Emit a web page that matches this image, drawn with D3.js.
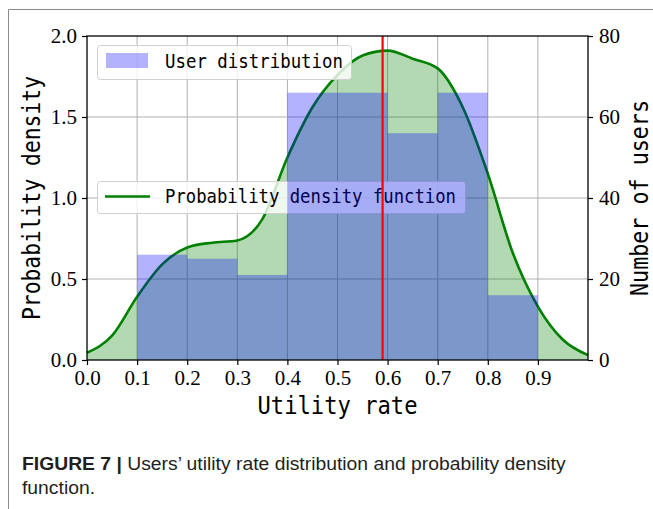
<!DOCTYPE html>
<html>
<head>
<meta charset="utf-8">
<script src="https://cdn.jsdelivr.net/npm/d3@7"></script>
<style>
  html, body { margin: 0; padding: 0; background: #fff; }
  svg { display: block; }
</style>
</head>
<body>
<svg id="chart" width="653" height="509"></svg>
<script>
// Histogram bins (utility rate) and number of users in each bin
const binStarts = [0.1, 0.2, 0.3, 0.4, 0.5, 0.6, 0.7, 0.8];
const binWidth = 0.1;
const userCounts = [26, 25, 21, 66, 66, 56, 66, 16];

// Estimated probability density function of the utility rate
const pdfX = [0, 0.05, 0.1, 0.15, 0.2, 0.25, 0.3, 0.35, 0.4, 0.45, 0.5, 0.55,
              0.6, 0.65, 0.7, 0.75, 0.8, 0.85, 0.9, 0.95, 1.0];
const pdfY = [0.045, 0.15, 0.39, 0.59, 0.695, 0.724, 0.738, 0.87, 1.25, 1.56, 1.76, 1.88,
              1.91, 1.86, 1.80, 1.56, 1.15, 0.66, 0.33, 0.125, 0.03];

// Mean utility rate marker
const meanRate = 0.59;

// Tick labels
const xTicks = [0.0, 0.1, 0.2, 0.3, 0.4, 0.5, 0.6, 0.7, 0.8, 0.9];
const yLeftTicks = [0.0, 0.5, 1.0, 1.5, 2.0];
const yRightTicks = [0, 20, 40, 60, 80];

const svg = d3.select("#chart");
const L = 87, R = 588, T = 36, B = 360;

const x = d3.scaleLinear().domain([0, 1]).range([L, R]);
const yL = d3.scaleLinear().domain([0, 2]).range([B, T]);
const yR = d3.scaleLinear().domain([0, 80]).range([B, T]);

const mono = "'DejaVu Sans Mono', 'Liberation Mono', monospace";
const serif = "'Liberation Serif', 'Times New Roman', serif";
const capFont = "'Liberation Sans Narrow', 'Liberation Sans', Arial, sans-serif";

// Figure frame
svg.append("path")
  .attr("d", "M8.5,509 V9.5 H653")
  .attr("fill", "none").attr("stroke", "#8a8a8a").attr("stroke-width", 1);

// Grid
const grid = svg.append("g").attr("stroke", "#b0b0b0").attr("stroke-width", 1);
xTicks.filter(d => d > 0).forEach(d => {
  grid.append("line").attr("x1", x(d)).attr("x2", x(d)).attr("y1", T).attr("y2", B);
});
yLeftTicks.filter(d => d > 0 && d < 2).forEach(d => {
  grid.append("line").attr("x1", L).attr("x2", R).attr("y1", yL(d)).attr("y2", yL(d));
});

// PDF: shaded area and line
const pts = pdfX.map((v, i) => [v, pdfY[i]]);
const curve = d3.curveMonotoneX;
svg.append("path").datum(pts)
  .attr("d", d3.area().x(d => x(d[0])).y0(yL(0)).y1(d => yL(d[1])).curve(curve))
  .attr("fill", "rgb(0,128,0)").attr("fill-opacity", 0.3);
svg.append("path").datum(pts)
  .attr("d", d3.line().x(d => x(d[0])).y(d => yL(d[1])).curve(curve))
  .attr("fill", "none").attr("stroke", "#008000").attr("stroke-width", 2.6);

// Fit text to a given width
function fitText(sel, w) {
  sel.attr("textLength", w).attr("lengthAdjust", "spacingAndGlyphs");
  return sel;
}

// Legend for the PDF (left axis)
function legendBox(x0, y0, w, h) {
  svg.append("rect").attr("x", x0).attr("y", y0).attr("width", w).attr("height", h)
    .attr("rx", 3).attr("fill", "#fff").attr("fill-opacity", 0.8)
    .attr("stroke", "#d0d0d0").attr("stroke-width", 1);
}
legendBox(97.5, 181.5, 368, 32);
svg.append("line").attr("x1", 105).attr("x2", 150).attr("y1", 196.5).attr("y2", 196.5)
  .attr("stroke", "#008000").attr("stroke-width", 2.6);
fitText(svg.append("text").attr("x", 165).attr("y", 203)
  .attr("font-family", mono).attr("font-size", 19).attr("fill", "#000")
  .text("Probability density function"), 291);

// Histogram bars (right axis)
svg.append("g").selectAll("rect").data(binStarts).join("rect")
  .attr("x", d => x(d)).attr("width", d => x(d + binWidth) - x(d))
  .attr("y", (d, i) => yR(userCounts[i])).attr("height", (d, i) => yR(0) - yR(userCounts[i]))
  .attr("fill", "rgb(0,0,255)").attr("fill-opacity", 0.3);

// Mean marker
svg.append("line").attr("x1", x(meanRate)).attr("x2", x(meanRate)).attr("y1", T).attr("y2", B)
  .attr("stroke", "#ff0000").attr("stroke-width", 2.2);

// Legend for the histogram
legendBox(97.5, 45.5, 254, 34);
svg.append("rect").attr("x", 106).attr("y", 53).attr("width", 42).attr("height", 15)
  .attr("fill", "rgb(0,0,255)").attr("fill-opacity", 0.3);
fitText(svg.append("text").attr("x", 165).attr("y", 68)
  .attr("font-family", mono).attr("font-size", 19).attr("fill", "#000")
  .text("User distribution"), 178);

// Spines
svg.append("rect").attr("x", L).attr("y", T).attr("width", R - L).attr("height", B - T)
  .attr("fill", "none").attr("stroke", "#000").attr("stroke-width", 1.3);

// Axes
const fmt1 = d3.format(".1f");
const ax = svg.append("g").attr("transform", `translate(0,${B})`)
  .call(d3.axisBottom(x).tickValues(xTicks).tickFormat(fmt1).tickSize(5).tickPadding(5));
const ayl = svg.append("g").attr("transform", `translate(${L},0)`)
  .call(d3.axisLeft(yL).tickValues(yLeftTicks).tickFormat(fmt1).tickSize(5).tickPadding(5));
const ayr = svg.append("g").attr("transform", `translate(${R},0)`)
  .call(d3.axisRight(yR).tickValues(yRightTicks).tickFormat(d3.format("d")).tickSize(5).tickPadding(6));
[ax, ayl, ayr].forEach(g => {
  g.select(".domain").remove();
  g.selectAll(".tick line").attr("stroke", "#000").attr("stroke-width", 1.2);
  g.selectAll(".tick text").attr("font-family", serif).attr("font-size", 21).attr("fill", "#000");
});

// Axis titles
fitText(svg.append("text").attr("x", (L + R) / 2).attr("y", 414).attr("text-anchor", "middle")
  .attr("font-family", mono).attr("font-size", 24).attr("fill", "#000")
  .text("Utility rate"), 160);
fitText(svg.append("text").attr("transform", `translate(40,${(T + B) / 2}) rotate(-90)`)
  .attr("text-anchor", "middle")
  .attr("font-family", mono).attr("font-size", 24).attr("fill", "#000")
  .text("Probability density"), 244);
fitText(svg.append("text").attr("transform", `translate(648,${(T + B) / 2}) rotate(-90)`)
  .attr("text-anchor", "middle")
  .attr("font-family", mono).attr("font-size", 24).attr("fill", "#000")
  .text("Number of users"), 196);

// Caption, squeezed horizontally to a condensed face
function captionLine(y, parts, targetW) {
  const g = svg.append("g");
  const t = g.append("text").attr("x", 0).attr("y", 0)
    .attr("font-family", capFont).attr("font-size", 18.5).attr("fill", "#231f20");
  parts.forEach(p => t.append("tspan").attr("font-weight", p.bold ? "bold" : "normal").text(p.text));
  const w = t.node().getComputedTextLength();
  const sx = targetW ? targetW / w : 0.9;
  g.attr("transform", `translate(22,${y}) scale(${sx},1)`);
  return sx;
}
const sx = captionLine(470, [
  { text: "FIGURE 7 | ", bold: true },
  { text: "Users\u2019 utility rate distribution and probability density" }
], 544);
const g2 = svg.append("g").attr("transform", `translate(22,494) scale(${sx},1)`);
g2.append("text").attr("font-family", capFont).attr("font-size", 18.5).attr("fill", "#231f20")
  .text("function.");
</script>
</body>
</html>
